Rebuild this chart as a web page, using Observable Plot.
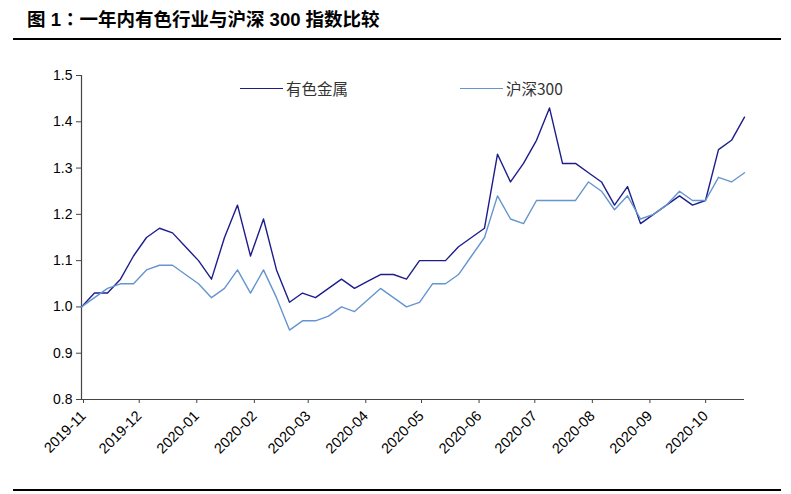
<!DOCTYPE html>
<html>
<head>
<meta charset="utf-8">
<script src="https://cdn.jsdelivr.net/npm/d3@7"></script>
<script src="https://cdn.jsdelivr.net/npm/@observablehq/plot@0.6"></script>
<style>
  html, body { margin: 0; padding: 0; background: #fff; }
  #wrap { position: relative; width: 791px; height: 494px; overflow: hidden; }
  #title { position: absolute; left: 27px; top: 5px; font: bold 18.5px "Liberation Sans", "Noto Sans CJK SC", sans-serif; color: #000; white-space: nowrap; }
  #title .colon { font-family: "Noto Sans CJK TC", sans-serif; }
  .rule { position: absolute; left: 13px; width: 768px; background: #000; }
  #legend { position: absolute; top: 77px; left: 0; width: 791px; height: 22px; font: 15.5px "Noto Sans CJK SC", sans-serif; color: #333; }
  .item { position: absolute; top: 0; display: flex; align-items: center; height: 22px; }
  .swatch { width: 43px; height: 0; border-top: 1.4px solid; margin-right: 3px; }
  #chart { position: absolute; left: 0; top: 0; }
</style>
</head>
<body>
<div id="wrap">
  <div id="chart"></div>
  <div id="title">图 1<span class="colon">：</span>一年内有色行业与沪深 300 指数比较</div>
  <div class="rule" style="top:38px;height:2px"></div>
  <div class="rule" style="top:489px;height:2px"></div>
  <div id="legend"></div>
</div>
<script>
const seriesNames = ["有色金属", "沪深300"];
const seriesColors = ["#1d1d8c", "#6595cf"];

const dates = [
  "2019-11-01","2019-11-08","2019-11-15","2019-11-22","2019-11-29",
  "2019-12-06","2019-12-13","2019-12-20","2019-12-27",
  "2020-01-03","2020-01-10","2020-01-17","2020-01-24","2020-01-31",
  "2020-02-07","2020-02-14","2020-02-21","2020-02-28",
  "2020-03-06","2020-03-13","2020-03-20","2020-03-27",
  "2020-04-03","2020-04-10","2020-04-17","2020-04-24",
  "2020-05-01","2020-05-08","2020-05-15","2020-05-22","2020-05-29",
  "2020-06-05","2020-06-12","2020-06-19","2020-06-26",
  "2020-07-03","2020-07-10","2020-07-17","2020-07-24","2020-07-31",
  "2020-08-07","2020-08-14","2020-08-21","2020-08-28",
  "2020-09-04","2020-09-11","2020-09-18","2020-09-25",
  "2020-10-02","2020-10-09","2020-10-16","2020-10-23"
];

const metals = [
  1.00,1.03,1.03,1.06,1.11,1.15,1.17,1.16,1.13,1.10,
  1.06,1.15,1.22,1.11,1.19,1.08,1.01,1.03,1.02,1.04,
  1.06,1.04,1.055,1.07,1.07,1.06,1.10,1.10,1.10,1.13,
  1.15,1.17,1.33,1.27,1.31,1.36,1.43,1.31,1.31,1.29,
  1.27,1.22,1.26,1.18,1.20,1.22,1.24,1.22,1.23,1.34,
  1.36,1.41
];

const hs300 = [
  1.00,1.02,1.04,1.05,1.05,1.08,1.09,1.09,1.07,1.05,
  1.02,1.04,1.08,1.03,1.08,1.02,0.95,0.97,0.97,0.98,
  1.00,0.99,1.015,1.04,1.02,1.00,1.01,1.05,1.05,1.07,
  1.11,1.15,1.24,1.19,1.18,1.23,1.23,1.23,1.23,1.27,
  1.25,1.21,1.24,1.19,1.20,1.22,1.25,1.23,1.23,1.28,
  1.27,1.29
];

const yTicks = [0.8, 0.9, 1.0, 1.1, 1.2, 1.3, 1.4, 1.5];

const parse = d3.utcParse("%Y-%m-%d");
const rows = [];
dates.forEach((d, i) => {
  rows.push({date: parse(d), value: metals[i], series: seriesNames[0]});
  rows.push({date: parse(d), value: hs300[i], series: seriesNames[1]});
});
const xDomain = [parse(dates[0]), parse(dates[dates.length - 1])];

const chart = Plot.plot({
  width: 791,
  height: 494,
  marginLeft: 81,
  marginRight: 47,
  marginTop: 75,
  marginBottom: 95,
  style: {fontFamily: "'Liberation Sans', Arial, sans-serif", fontSize: "14px", color: "#000", background: "transparent"},
  x: {type: "utc", domain: xDomain},
  y: {domain: [0.8, 1.5]},
  color: {domain: seriesNames, range: seriesColors},
  marks: [
    Plot.axisY({ticks: yTicks, tickFormat: d3.format(".1f"), tickSize: 5, tickPadding: 4, stroke: "#444", label: null, fontSize: 14}),
    Plot.axisX({ticks: d3.utcMonth.every(1), tickFormat: d3.utcFormat("%Y-%m"), tickSize: 4, tickPadding: 10, dx: 2, tickRotate: -45, stroke: "#444", label: null, fontSize: 14.5}),
    Plot.ruleX([xDomain[0]], {stroke: "#444", strokeWidth: 1.2}),
    Plot.ruleY([0.8], {stroke: "#444", strokeWidth: 1.2}),
    Plot.line(rows, {x: "date", y: "value", stroke: "series", z: "series", strokeWidth: 1.4})
  ]
});
document.getElementById("chart").appendChild(chart);

const legend = document.getElementById("legend");
const legendLeft = [240, 460];
seriesNames.forEach((name, i) => {
  const item = document.createElement("div");
  item.className = "item";
  item.style.left = legendLeft[i] + "px";
  const sw = document.createElement("div");
  sw.className = "swatch";
  sw.style.borderTopColor = seriesColors[i];
  const label = document.createElement("span");
  label.textContent = name;
  item.appendChild(sw);
  item.appendChild(label);
  legend.appendChild(item);
});
</script>
</body>
</html>
